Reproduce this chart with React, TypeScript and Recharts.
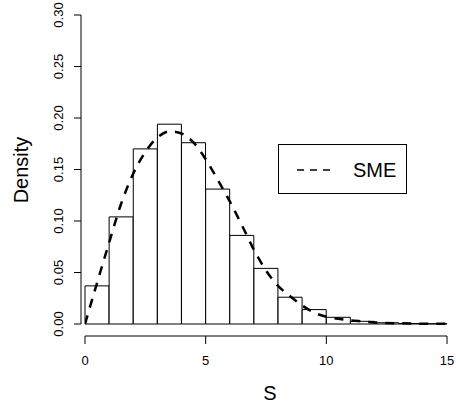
import React from 'react';
import { ComposedChart, Bar, Line, XAxis, YAxis, Legend } from 'recharts';

// histogram bins (left edges) and density heights
const binStarts = [0, 1, 2, 3, 4, 5, 6, 7, 8, 9, 10, 11, 12, 13, 14];
const histDensity = [
  0.037, 0.104, 0.17, 0.194, 0.176, 0.131, 0.086, 0.054, 0.026, 0.014, 0.0065, 0.0026, 0.0012, 0.0005, 0.0003,
];

// SME density curve
const smeS = [0, 0.5, 1, 1.5, 2, 2.5, 3, 3.5, 4, 4.5, 5, 5.5, 6, 6.5, 7, 7.5, 8, 8.5, 9, 9.5, 10, 10.5, 11, 11.5, 12, 13, 14, 15];
const smeDensity = [
  0, 0.04, 0.079, 0.117, 0.146, 0.167, 0.181, 0.187, 0.185, 0.176, 0.16, 0.14, 0.119, 0.096, 0.072, 0.052, 0.037,
  0.027, 0.018, 0.011, 0.007, 0.005, 0.0035, 0.0025, 0.0015, 0.0007, 0.0003, 0.0002,
];

const yTicks = [0, 0.05, 0.1, 0.15, 0.2, 0.25, 0.3];
const xTicks = [0, 5, 10, 15];

const histData = binStarts.map((b, i) => ({ bin: b, density: histDensity[i] }));
const smeData = smeS.map((s, i) => ({ s, sme: smeDensity[i] }));

const FONT = '"Liberation Sans", Arial, sans-serif';

const YTick = ({ x, y, payload }: any) => (
  <text
    x={x}
    y={y}
    transform={`rotate(-90 ${x} ${y})`}
    textAnchor="middle"
    fontSize={13}
    fill="#000"
    fontFamily={FONT}
  >
    {payload.value.toFixed(2)}
  </text>
);

const LegendBox = ({ payload }: any) => (
  <div style={{ width: 129, height: 50, border: '1px solid #000', boxSizing: 'border-box', background: '#fff' }}>
    <svg width={127} height={48} style={{ display: 'block' }}>
      <line x1={18} x2={52} y1={25} y2={25} stroke="#000" strokeWidth={1.5} strokeDasharray="7 6" />
      <text x={74} y={32} fontSize={20} fontFamily={FONT} fill="#000">
        {payload && payload[0] ? payload[0].value : 'SME'}
      </text>
    </svg>
  </div>
);

export default function App() {
  return (
    <div style={{ position: 'absolute', left: 0, top: 0, width: 456, height: 408, background: '#fff' }}>
      <ComposedChart
        width={456}
        height={408}
        data={histData}
        margin={{ top: 15, right: 9, bottom: 0, left: 0 }}
        barCategoryGap={0}
        style={{ fontFamily: FONT }}
      >
        <XAxis
          xAxisId="num"
          dataKey="s"
          type="number"
          domain={[0, 15]}
          allowDataOverflow
          ticks={xTicks}
          padding={{ left: 4, right: 0 }}
          height={72}
          tickSize={8}
          tickMargin={12}
          axisLine={{ stroke: '#000', strokeDasharray: '0 4 362 20' }}
          tickLine={{ stroke: '#000' }}
          tick={{ fill: '#000', fontSize: 13 }}
          label={{
            content: () => (
              <text x={270} y={400} textAnchor="middle" fontSize={20} fontFamily={FONT} fill="#000">
                S
              </text>
            ),
          }}
        />
        <XAxis xAxisId="bins" dataKey="bin" hide height={0} padding={{ left: 4, right: 0 }} />
        <YAxis
          domain={[0, 0.3]}
          ticks={yTicks}
          width={81}
          padding={{ top: 0, bottom: 12 }}
          tickSize={7}
          tickMargin={11}
          axisLine={{ stroke: '#000', strokeDasharray: '309 30' }}
          tickLine={{ stroke: '#000' }}
          tick={<YTick />}
          label={{
            content: () => (
              <text
                x={28}
                y={170}
                transform="rotate(-90 28 170)"
                textAnchor="middle"
                fontSize={20}
                fontFamily={FONT}
                fill="#000"
              >
                Density
              </text>
            ),
          }}
        />
        <Bar
          xAxisId="bins"
          dataKey="density"
          fill="#fff"
          stroke="#000"
          strokeWidth={1}
          isAnimationActive={false}
          legendType="none"
        />
        <Line
          xAxisId="num"
          data={smeData}
          dataKey="sme"
          name="SME"
          type="monotone"
          stroke="#000"
          strokeWidth={2.5}
          strokeDasharray="9 8"
          dot={false}
          isAnimationActive={false}
        />
        <Legend
          layout="horizontal"
          verticalAlign="middle"
          align="center"
          wrapperStyle={{ left: 278, top: 144, width: 129, height: 50 }}
          content={<LegendBox />}
        />
      </ComposedChart>
    </div>
  );
}
